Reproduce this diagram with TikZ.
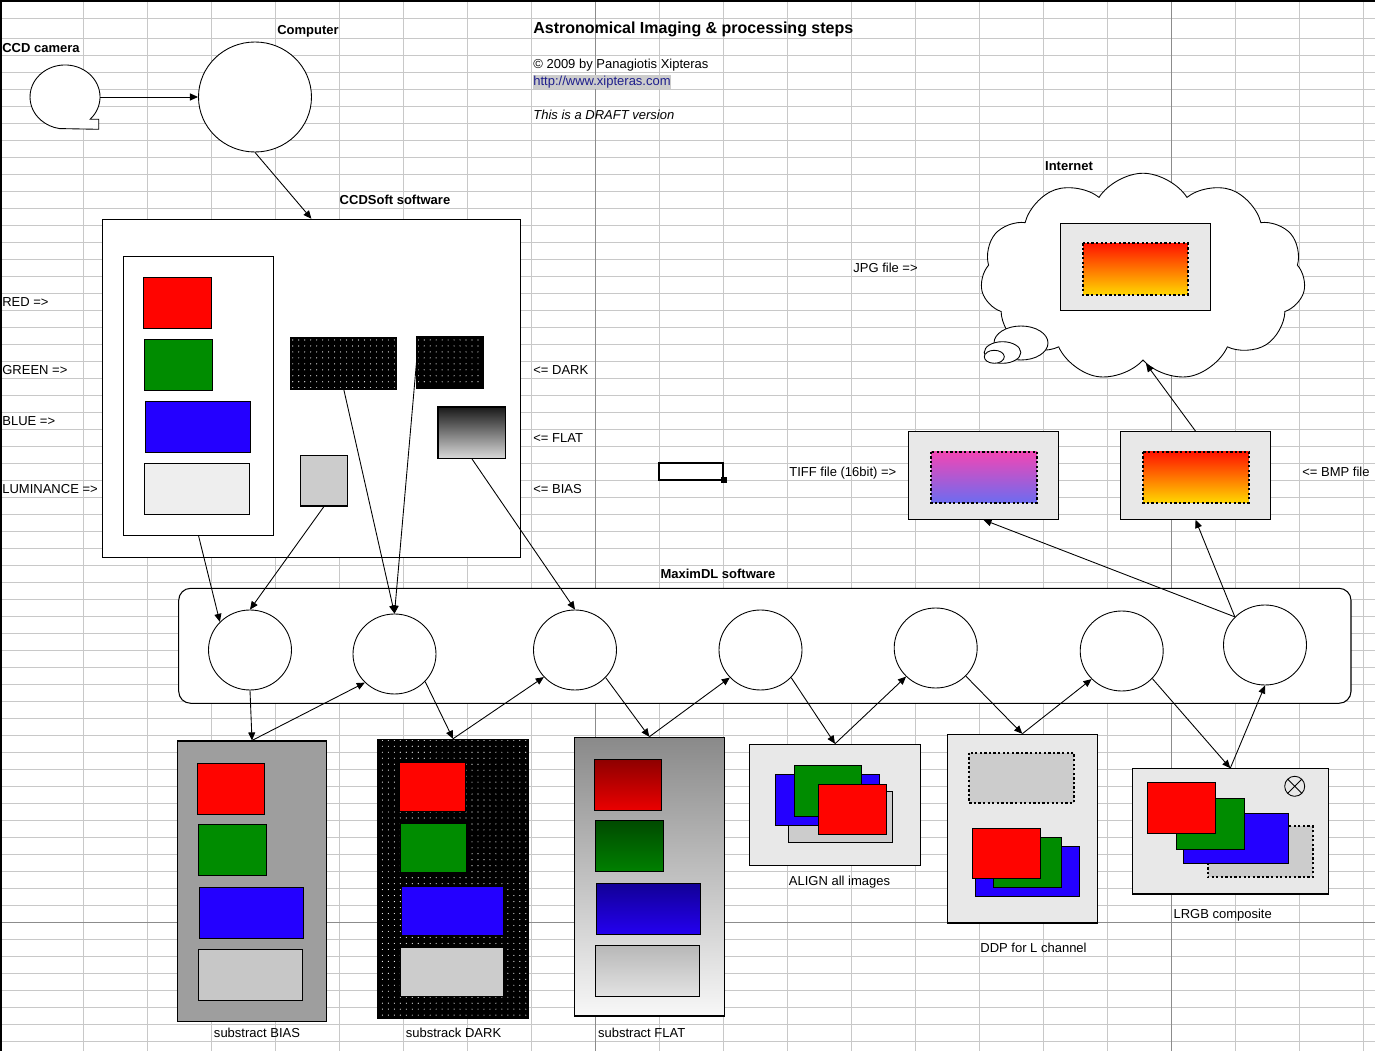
\documentclass[tikz,border=0pt]{standalone}
\usepackage{fontspec}
\setmainfont{Liberation Sans}
\usetikzlibrary{arrows.meta,shapes.geometric,shapes.symbols,fit,patterns}

\definecolor{xlred}{RGB}{255,4,0}
\definecolor{xlgreen}{RGB}{0,140,0}
\definecolor{xlblue}{RGB}{36,0,255}
\definecolor{panel}{RGB}{232,232,232}
\definecolor{lum}{RGB}{238,238,238}
\definecolor{lgray}{RGB}{204,204,204}
\definecolor{gridline}{RGB}{200,200,200}
\definecolor{griddark}{RGB}{140,140,140}
\definecolor{linkblue}{RGB}{30,30,140}
\definecolor{hotA}{RGB}{255,20,0}
\definecolor{hotB}{RGB}{255,120,0}
\definecolor{hotC}{RGB}{255,215,0}
\definecolor{tiffA}{RGB}{242,70,180}
\definecolor{tiffB}{RGB}{108,108,240}
\newcommand{\fs}{\fontsize{7.4}{9}\selectfont}
% sparse white dots of the dark frames
\pgfdeclarepatternformonly{sparsedots}{\pgfqpoint{-1pt}{-1pt}}{\pgfqpoint{1pt}{1pt}}{\pgfqpoint{3.4pt}{3.4pt}}{\pgfpathcircle{\pgfqpoint{0pt}{0pt}}{0.33pt}\pgfusepath{fill}}

\begin{document}
\begin{tikzpicture}[x=0.2mm, y=-0.2mm, >={Triangle[length=4.6pt, width=4pt]},
	every node/.style={font=\fs},
	lbl/.style={inner sep=0pt, anchor=base west},
	clbl/.style={inner sep=0pt, anchor=base},
	head/.style={inner sep=0pt, anchor=base, font=\fs\bfseries},
	frame/.style={draw, line width=0.6pt, inner sep=0pt},
	proc/.style={ellipse, draw, fill=white, line width=0.5pt, inner sep=0pt, minimum width=16.6mm, minimum height=16mm},
	sw/.style={draw, line width=0.5pt},
	dotframe/.style={draw, line width=1.3pt, dash pattern=on 1.3pt off 1.3pt},
	darkfill/.style={preaction={fill=black}, pattern=sparsedots, pattern color=white},
	link/.style={->, line width=0.5pt}]
	\useasboundingbox (0,0) rectangle (1375,1051);
	\fill[white] (0,0) rectangle (1375,1051);
	% spreadsheet grid
	\foreach \i in {0,...,20}
		\draw[gridline, line width=0.55pt] (83.3+64*\i,0) -- (83.3+64*\i,1051);
	\draw[gridline, line width=0.55pt] (0,18.3) -- (1375,18.3);
	\foreach \j in {0,...,59}
		\draw[gridline, line width=0.55pt] (0,38.3+17*\j) -- (1375,38.3+17*\j);
	\draw[griddark, line width=0.55pt] (595.3,0) -- (595.3,1051) (1171.3,0) -- (1171.3,1051) (0,922.3) -- (1375,922.3);
	\draw[line width=0.9pt] (0,1) -- (1375,1) (1,0) -- (1,1051);

	% header texts
	\node[lbl, font=\fontsize{9.1}{11}\selectfont\bfseries] (title) at (533,33.5) {Astronomical Imaging \& processing steps};
	\node[lbl] (copy) at (533,69) {© 2009 by Panagiotis Xipteras};
	\node[lbl, fill=black!20, text=linkblue, inner ysep=0.6pt] (url) at (533,85.3) {http://www.xipteras.com};
	\node[lbl, font=\fs\itshape] (draft) at (533,119.3) {This is a DRAFT version};

	% camera and computer
	\node[lbl, font=\fs\bfseries] (camlbl) at (2,52.5) {CCD camera};
	\node[ellipse, inner sep=0pt, minimum width=14mm, minimum height=12.8mm] (cam) at (65,97) {};
	\draw[fill=white, line width=0.5pt] (90.2,119.2) arc[start angle=44, end angle=-261, x radius=35, y radius=32] -- (98.7,129.3) -- (98.7,119.2) -- cycle;
	\node[lbl, font=\fs\bfseries] (complbl) at (277,35) {Computer};
	\node[ellipse, draw, fill=white, line width=0.5pt, inner sep=0pt, minimum width=22.6mm, minimum height=22mm] (comp) at (255,97) {};

	% CCDSoft
	\node[head] (ccdlbl) at (395,205) {CCDSoft software};
	\node[frame, fill=white, fit={(102.5,219.3) (520.4,557.3)}] (ccd) {};
	\node[frame, fill=white, fit={(123.5,256.7) (273.6,535.3)}] (chan) {};
	\draw[sw, fill=xlred] (143.4,277.3) rectangle (211.7,328.3);
	\draw[sw, fill=xlgreen] (144.4,339.3) rectangle (212.7,390.3);
	\draw[sw, fill=xlblue] (145.4,401.3) rectangle (250.6,452.3);
	\draw[sw, fill=lum] (144.4,463.3) rectangle (249.6,514.3);
	\node[frame, darkfill, fit={(291,337.7) (396.6,389)}] (dark1) {};
	\node[frame, darkfill, fit={(417,336.7) (483.9,388)}] (dark2) {};
	\node[frame, top color=black!90, bottom color=black!15, fit={(438,407) (505.8,458.3)}] (flat) {};
	\node[frame, fill=black!20, fit={(300.3,455.3) (347.6,506)}] (biasq) {};

	\node[lbl] (redlbl) at (2,306.5) {RED =>};
	\node[lbl] (greenlbl) at (2,374.5) {GREEN =>};
	\node[lbl] (bluelbl) at (2,425.5) {BLUE =>};
	\node[lbl] (lumlbl) at (2,493.5) {LUMINANCE =>};
	\node[lbl] (darklbl) at (533,374.5) {<= DARK};
	\node[lbl] (flatlbl) at (533,442.5) {<= FLAT};
	\node[lbl] (biaslbl) at (533,493.5) {<= BIAS};

	% selected cell
	\draw[line width=1.2pt] (659,463) rectangle (723,480);
	\fill (720.5,477.5) rectangle (726.5,483.5);

	% internet and output files
	\node[head] (netlbl) at (1069,170.7) {Internet};
	\node[cloud, draw, fill=white, line width=0.5pt, cloud puffs=11, cloud puff arc=115, aspect=1.6, minimum width=65mm, minimum height=41.5mm] (cloud) at (1143,277) {};
	\draw[fill=white, line width=0.5pt] (1021,343) ellipse [x radius=27, y radius=17];
	\draw[fill=white, line width=0.5pt] (1002.5,352.5) ellipse [x radius=18.3, y radius=10.8];
	\draw[fill=white, line width=0.5pt] (994.3,356.8) ellipse [x radius=10, y radius=6.5];
	\node[frame, fill=panel, fit={(1060.3,223.3) (1210.7,310.3)}] (jpg) {};
	\draw[dotframe, top color=hotA, middle color=hotB, bottom color=hotC] (1083,243.3) rectangle (1187.7,294.7);
	\node[lbl] (jpglbl) at (853,272.5) {JPG file =>};

	\node[frame, fill=panel, fit={(908.3,431.7) (1058.6,519.3)}] (tiff) {};
	\draw[dotframe, top color=tiffA, bottom color=tiffB] (931,451.7) rectangle (1037,502.7);
	\node[frame, fill=panel, fit={(1120.4,431.7) (1270.7,519.3)}] (bmp) {};
	\draw[dotframe, top color=hotA, middle color=hotB, bottom color=hotC] (1143,451.7) rectangle (1248.7,502.7);
	\node[lbl] (tifflbl) at (789,476.5) {TIFF file (16bit) =>};
	\node[lbl] (bmplbl) at (1302,476.5) {<= BMP file};

	% MaximDL
	\node[head] (maxlbl) at (718,579) {MaximDL software};
	\node[frame, fill=white, rounded corners=2.4mm, fit={(178.7,588.3) (1351,703.3)}] (maxim) {};
	\node[proc] (m1) at (250,650) {};
	\node[proc] (m2) at (394.5,654) {};
	\node[proc] (m3) at (575,650) {};
	\node[proc] (m4) at (760.5,650) {};
	\node[proc] (m5) at (935.7,648) {};
	\node[proc] (m6) at (1121.7,651) {};
	\node[proc] (m7) at (1265,645) {};

	% substract BIAS
	\node[frame, fill=black!38, fit={(177.3,741) (326.7,1021.7)}] (biasbox) {};
	\draw[sw, fill=xlred] (197.3,763.3) rectangle (264.7,814);
	\draw[sw, fill=xlgreen] (198.7,824.7) rectangle (266,875.3);
	\draw[sw, fill=xlblue] (199.3,887.3) rectangle (303.7,938.3);
	\draw[sw, fill=black!22] (198.7,949.3) rectangle (302.7,1000);
	\node[clbl] (biasout) at (257,1037.5) {substract BIAS};

	% substrack DARK
	\node[frame, darkfill, fit={(378,739.3) (528,1018.7)}] (darkbox) {};
	\draw[sw, fill=xlred] (399,762) rectangle (465,811.7);
	\draw[sw, fill=xlgreen] (400,823) rectangle (466,872.7);
	\draw[sw, fill=xlblue] (401,886) rectangle (503.7,935.7);
	\draw[sw, fill=lgray] (400,947) rectangle (503,996.7);
	\node[clbl] (darkout) at (453.5,1037.5) {substrack DARK};

	% substract FLAT
	\node[frame, top color=black!46, bottom color=black!3, fit={(574.3,737.3) (724.3,1016)}] (flatbox) {};
	\draw[sw, top color={rgb,255:red,142;green,0;blue,0}, bottom color={rgb,255:red,235;green,0;blue,0}] (594.3,759.3) rectangle (661.7,810.3);
	\draw[sw, top color={rgb,255:red,0;green,74;blue,0}, bottom color={rgb,255:red,0;green,128;blue,0}] (595.3,820.3) rectangle (663.7,871.3);
	\draw[sw, top color={rgb,255:red,18;green,0;blue,150}, bottom color={rgb,255:red,36;green,0;blue,240}] (596.3,883.3) rectangle (700.7,934.3);
	\draw[sw, top color=black!28, bottom color=black!11] (595.3,945.3) rectangle (699.7,996.3);
	\node[clbl] (flatout) at (641.7,1037.5) {substract FLAT};

	% ALIGN
	\node[frame, fill=panel, fit={(749.3,744.3) (920.7,865.3)}] (alignbox) {};
	\draw[sw, fill=lgray] (788.3,791.3) rectangle (892.7,842.3);
	\draw[sw, fill=xlblue] (775.3,774.3) rectangle (879.7,825.3);
	\draw[sw, fill=xlgreen] (794.3,765) rectangle (861.7,816.3);
	\draw[sw, fill=xlred] (818.3,784.3) rectangle (886.7,834.3);
	\node[clbl] (alignout) at (839.5,885) {ALIGN all images};

	% DDP
	\node[frame, fill=panel, fit={(947.3,734.3) (1097.3,923)}] (ddpbox) {};
	\draw[dotframe, fill=lgray] (969,752.7) rectangle (1074,802.7);
	\draw[sw, fill=xlblue] (975.3,846.7) rectangle (1079.3,896);
	\draw[sw, fill=xlgreen] (993.3,837.7) rectangle (1061.3,887);
	\draw[sw, fill=xlred] (972.3,828.3) rectangle (1040.3,878);
	\node[clbl] (ddpout) at (1033.5,952.7) {DDP for L channel};

	% LRGB
	\node[frame, fill=panel, fit={(1132.3,768.7) (1328.3,894)}] (lrgb) {};
	\draw[dotframe, fill=lgray] (1207.7,826.3) rectangle (1312.7,877.3);
	\draw[sw, fill=xlblue] (1183.3,813.3) rectangle (1288.3,863.3);
	\draw[sw, fill=xlgreen] (1176.3,798.3) rectangle (1244.3,849);
	\draw[sw, fill=xlred] (1147.3,782.3) rectangle (1215.3,833.3);
	\draw[line width=0.5pt] (1294.7,786.3) circle[radius=10] (1287.6,779.2) -- (1301.8,793.4) (1287.6,793.4) -- (1301.8,779.2);
	\node[clbl] (lrgbout) at (1222.7,918.7) {LRGB composite};

	% connectors
	\draw[link] (cam.east) -- (comp.west);
	\draw[link] (comp.south) -- (ccd.north);
	\draw[link] (chan.south) -- (m1.137);
	\draw[link] (biasq.south) -- (m1.north);
	\draw[link] (dark1.south) -- (m2.north);
	\draw[link] (dark2.west) -- (m2.north);
	\draw[link] (flat.south) -- (m3.north);
	\draw[link] (m1.south) -- (biasbox.north);
	\draw[link] (biasbox.north) -- (m2.224);
	\draw[link] (m2.318) -- (darkbox.north);
	\draw[link] (darkbox.north) -- (m3.221);
	\draw[link] (m3.318) -- (flatbox.north);
	\draw[link] (flatbox.north) -- (m4.222);
	\draw[link] (m4.318) -- (alignbox.north);
	\draw[link] (alignbox.north) -- (m5.224);
	\draw[link] (m5.317) -- (ddpbox.north);
	\draw[link] (ddpbox.north) -- (m6.223);
	\draw[link] (m6.318) -- (lrgb.north);
	\draw[link] (lrgb.north) -- (m7.south);
	\draw[link] (m7.137) -- (tiff.south);
	\draw[link] (m7.137) -- (bmp.south);
	\draw[link] (bmp.north) -- (cloud.272);
\end{tikzpicture}
\end{document}
